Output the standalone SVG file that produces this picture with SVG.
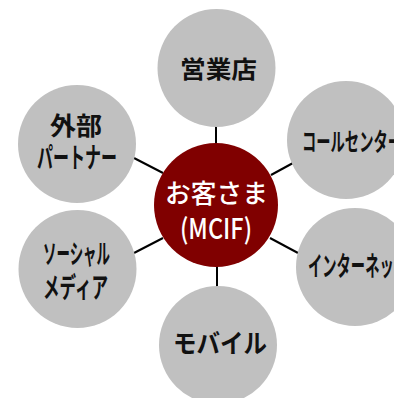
<svg xmlns="http://www.w3.org/2000/svg" width="394" height="398" viewBox="0 0 394 398">
<style>
.sat{fill:#C0C0C0}
.t{font-family:"Noto Sans CJK JP","Noto Sans",sans-serif;font-weight:700;fill:#111;text-anchor:start}
.c{font-family:"Noto Sans CJK JP","Noto Sans",sans-serif;font-weight:500;fill:#fff}
.ln{stroke:#000;stroke-width:2}
</style>
<rect width="394" height="398" fill="#fff"/>
<g id="connectors">
<line class="ln" x1="216" y1="126" x2="216" y2="144"/>
<line class="ln" x1="134" y1="158" x2="163" y2="173"/>
<line class="ln" x1="271" y1="175" x2="293" y2="163"/>
<line class="ln" x1="134" y1="253" x2="163" y2="238"/>
<line class="ln" x1="270" y1="238" x2="298" y2="253"/>
<line class="ln" x1="217" y1="266" x2="217" y2="287"/>
</g>
<g id="eigyoten">
<circle class="sat" cx="216.5" cy="68" r="59"/>
<text class="t" x="180" y="78" font-size="24" textLength="77" lengthAdjust="spacingAndGlyphs">営業店</text>
</g>
<g id="gaibu">
<circle class="sat" cx="77" cy="144" r="59"/>
<text class="t" x="50" y="135" font-size="25" textLength="52" lengthAdjust="spacingAndGlyphs">外部</text>
<text class="t" x="37" y="168" font-size="28" textLength="80" lengthAdjust="spacingAndGlyphs">パートナー</text>
</g>
<g id="callcenter">
<circle class="sat" cx="346" cy="140" r="59"/>
<text class="t" x="302" y="151" font-size="25" textLength="100" lengthAdjust="spacingAndGlyphs">コールセンター</text>
</g>
<g id="social">
<circle class="sat" cx="77.5" cy="269" r="59"/>
<text class="t" x="43" y="264" font-size="27" textLength="67" lengthAdjust="spacingAndGlyphs">ソーシャル</text>
<text class="t" x="43" y="298" font-size="28" textLength="65" lengthAdjust="spacingAndGlyphs">メディア</text>
</g>
<g id="internet">
<circle class="sat" cx="355" cy="267" r="59"/>
<text class="t" x="308" y="276" font-size="27" textLength="100" lengthAdjust="spacingAndGlyphs">インターネット</text>
</g>
<g id="mobile">
<circle class="sat" cx="218" cy="345" r="59"/>
<text class="t" x="173" y="353" font-size="26" textLength="94" lengthAdjust="spacingAndGlyphs">モバイル</text>
</g>
<g id="customer">
<circle cx="216" cy="205" r="62" fill="#800000"/>
<text class="c" x="165" y="203" font-size="26" textLength="103" lengthAdjust="spacingAndGlyphs">お客さま</text>
<text class="c" x="180" y="239" font-size="28" textLength="72" lengthAdjust="spacingAndGlyphs">(MCIF)</text>
</g>
</svg>
